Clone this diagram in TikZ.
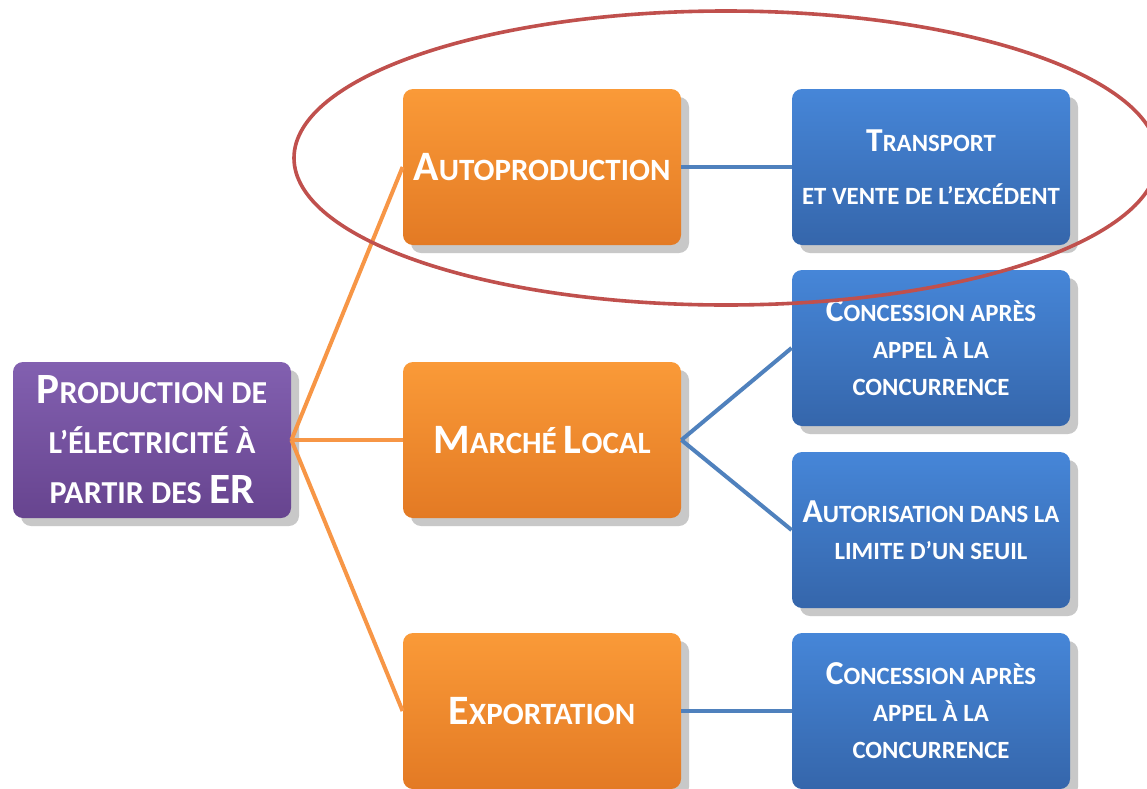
\documentclass[tikz,border=0pt]{standalone}
\usepackage{fontspec}
\setmainfont{Carlito}
\usetikzlibrary{shadows}

\definecolor{violetTop}{HTML}{8260B0}
\definecolor{violetBot}{HTML}{67448F}
\definecolor{orangeTop}{HTML}{FA9A38}
\definecolor{orangeBot}{HTML}{E37A24}
\definecolor{blueTop}{HTML}{4686D8}
\definecolor{blueBot}{HTML}{3566AB}
\definecolor{orangeLine}{HTML}{F79646}
\definecolor{blueLine}{HTML}{4F81BD}
\definecolor{ringRed}{HTML}{C0504D}

% fake small caps: bigger first letter
\makeatletter
\newcommand\Up[1]{{\fontsize{\strip@pt\dimexpr1.35\dimexpr\f@size pt\relax\relax}{0pt}\selectfont#1}}
\makeatother

\begin{document}
\begin{tikzpicture}[x=0.5pt, y=-0.5pt,
  box/.style={rounded corners=5pt, minimum width=139pt, minimum height=78pt,
    text=white, align=center, inner sep=2pt,
    drop shadow={shadow xshift=4pt, shadow yshift=-4pt, opacity=0.3, fill=black!70}},
  rootbox/.style={box, top color=violetTop, bottom color=violetBot,
    font=\bfseries\fontsize{16}{25}\selectfont},
  modebox/.style={box, top color=orangeTop, bottom color=orangeBot,
    font=\bfseries\fontsize{15.5}{20}\selectfont},
  regbox/.style={box, top color=blueTop, bottom color=blueBot,
    font=\bfseries\fontsize{12.4}{18.5}\selectfont},
  modeline/.style={orangeLine, line width=2pt},
  regline/.style={blueLine, line width=2pt},
  ringline/.style={ringRed, line width=1.8pt}]

\fill[white] (0,0) rectangle (1147,788);
\useasboundingbox (0,0) rectangle (1147,788);

\node[rootbox] (prod) at (152,440) {\Up{P}RODUCTION DE\\L’ÉLECTRICITÉ À\\PARTIR DES \Up{ER}};

\node[modebox] (auto) at (542,167) {\Up{A}UTOPRODUCTION};
\node[modebox] (local) at (542,440) {\Up{M}ARCHÉ \Up{L}OCAL};
\node[modebox] (export) at (542,711) {\Up{E}XPORTATION};

\node[regbox] (transp) at (931,167) {\Up{T}RANSPORT\\[8pt]ET VENTE DE L’EXCÉDENT};
\node[regbox] (concA) at (931,348) {\Up{C}ONCESSION APRÈS\\APPEL À LA\\CONCURRENCE};
\node[regbox] (autor) at (931,530) {\Up{A}UTORISATION DANS LA\\LIMITE D’UN SEUIL};
\node[regbox] (concB) at (931,711) {\Up{C}ONCESSION APRÈS\\APPEL À LA\\CONCURRENCE};

\draw[modeline] (prod.east) -- (auto.west);
\draw[modeline] (prod.east) -- (local.west);
\draw[modeline] (prod.east) -- (export.west);

\draw[regline] (auto.east) -- (transp.west);
\draw[regline] (local.east) -- (concA.west);
\draw[regline] (local.east) -- (autor.west);
\draw[regline] (export.east) -- (concB.west);

% ring round the first branch
\draw[ringline] (726,158) ellipse [x radius=216pt, y radius=73.5pt];

\end{tikzpicture}
\end{document}
